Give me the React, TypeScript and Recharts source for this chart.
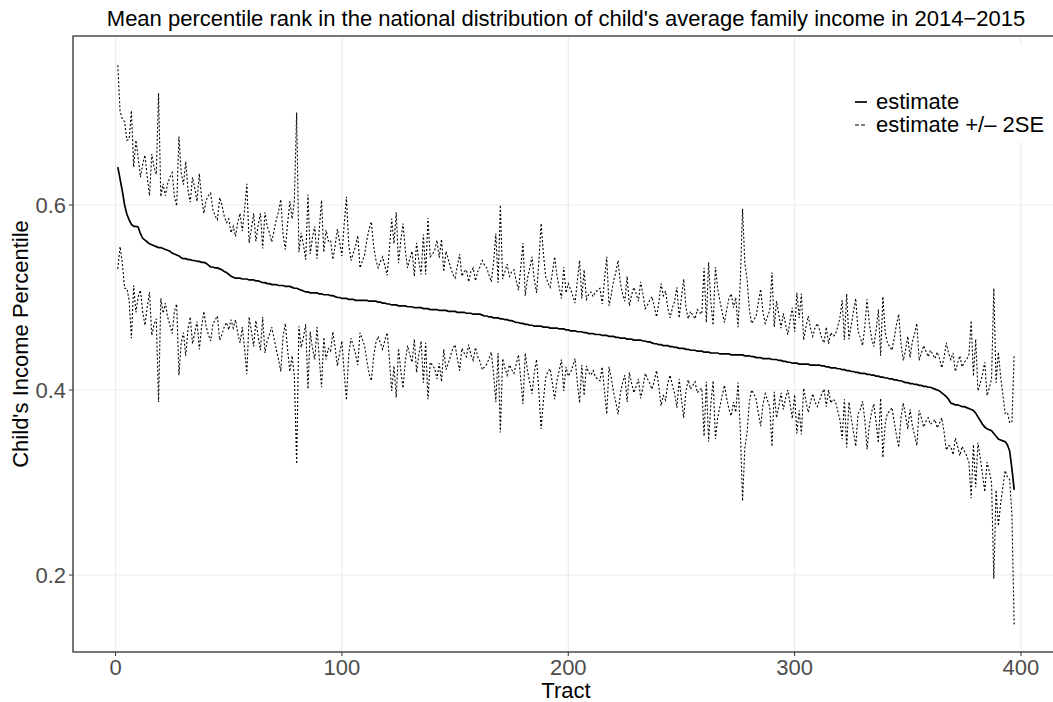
import { LineChart, Line, XAxis, YAxis, CartesianGrid } from "recharts";

const FONT = "'Liberation Sans', Arial, Helvetica, sans-serif";

// estimate per tract, in thousandths (tract 1..397)
const estimate = [
  641, 628, 615, 600, 590, 584, 579, 577, 577, 576,
  569, 564, 562, 560, 558, 557, 556, 555, 554, 554,
  553, 552, 551, 550, 548, 547, 546, 545, 543, 542,
  542, 541, 541, 540, 540, 539, 539, 538, 538, 537,
  535, 533, 533, 532, 532, 531, 530, 528, 527, 525,
  523, 522, 521, 521, 521, 520, 520, 520, 519, 519,
  519, 518, 518, 517, 516, 516, 515, 515, 514, 514,
  514, 513, 513, 513, 512, 512, 512, 511, 510, 510,
  509, 508, 507, 506, 506, 505, 505, 505, 505, 504,
  504, 503, 503, 503, 502, 502, 501, 500, 500, 499,
  499, 499, 498, 498, 498, 497, 497, 497, 497, 497,
  497, 496, 496, 496, 496, 495, 495, 494, 494, 493,
  493, 492, 492, 492, 491, 491, 491, 491, 490, 490,
  490, 489, 489, 489, 489, 488, 488, 488, 487, 487,
  487, 487, 486, 486, 486, 486, 485, 485, 485, 485,
  484, 484, 484, 484, 483, 483, 483, 482, 482, 482,
  482, 481, 480, 480, 479, 479, 478, 478, 478, 477,
  477, 476, 476, 475, 475, 474, 473, 473, 472, 472,
  471, 471, 470, 470, 469, 469, 469, 469, 468, 468,
  468, 467, 467, 467, 467, 466, 466, 466, 465, 465,
  464, 464, 464, 463, 463, 463, 462, 462, 461, 461,
  461, 460, 460, 460, 459, 459, 459, 458, 458, 458,
  457, 457, 456, 456, 456, 455, 455, 455, 454, 454,
  454, 454, 453, 453, 452, 452, 451, 450, 450, 449,
  449, 448, 448, 448, 447, 447, 446, 446, 445, 445,
  445, 444, 444, 443, 443, 443, 442, 442, 442, 441,
  441, 441, 440, 440, 440, 440, 439, 439, 439, 439,
  439, 438, 438, 438, 438, 438, 438, 437, 437, 437,
  436, 436, 435, 435, 435, 434, 434, 434, 434, 433,
  433, 433, 432, 432, 431, 431, 430, 430, 429, 429,
  429, 428, 428, 428, 428, 428, 427, 427, 427, 427,
  427, 426, 426, 425, 425, 424, 424, 424, 423, 423,
  422, 422, 421, 421, 420, 420, 419, 419, 418, 418,
  418, 417, 417, 416, 416, 415, 415, 414, 414, 413,
  413, 412, 412, 411, 411, 410, 410, 409, 408, 408,
  407, 407, 406, 406, 405, 405, 404, 404, 403, 403,
  402, 401, 400, 399, 397, 395, 393, 390, 386, 385,
  384, 384, 383, 382, 382, 381, 380, 379, 378, 375,
  371, 367, 363, 360, 358, 357, 356, 353, 350, 347,
  346, 345, 344, 341, 334, 315, 292,
];

// 2 x standard error per tract, in thousandths
const twoSE = [
  110, 73, 78, 90, 80, 87, 123, 64, 93, 75,
  61, 80, 92, 70, 52, 98, 85, 78, 167, 55,
  70, 58, 72, 80, 87, 62, 53, 129, 92, 80,
  105, 75, 62, 90, 78, 65, 95, 70, 53, 68,
  75, 80, 62, 56, 52, 77, 70, 60, 54, 60,
  47, 55, 45, 60, 70, 52, 75, 103, 40, 55,
  72, 43, 60, 74, 37, 76, 62, 55, 46, 58,
  70, 80, 93, 55, 40, 68, 92, 74, 95, 190,
  40, 62, 50, 35, 105, 42, 60, 72, 37, 70,
  101, 46, 70, 58, 60, 39, 55, 74, 60, 46,
  80, 110, 60, 42, 50, 58, 70, 35, 42, 49,
  65, 78, 86, 60, 45, 37, 44, 50, 40, 31,
  60, 93, 66, 100, 46, 70, 89, 60, 42, 52,
  60, 34, 70, 50, 36, 80, 37, 98, 57, 60,
  64, 75, 57, 77, 42, 64, 56, 48, 40, 36,
  50, 63, 39, 44, 47, 34, 45, 50, 36, 46,
  51, 59, 55, 52, 45, 38, 60, 91, 38, 123,
  43, 52, 60, 48, 53, 56, 45, 35, 60, 87,
  31, 50, 62, 74, 50, 36, 70, 111, 80, 55,
  48, 44, 60, 77, 57, 45, 33, 67, 40, 50,
  45, 38, 30, 55, 77, 36, 68, 36, 42, 45,
  40, 46, 48, 50, 34, 60, 85, 33, 45, 60,
  70, 83, 60, 48, 40, 68, 36, 48, 57, 50,
  42, 63, 50, 35, 40, 45, 50, 40, 29, 45,
  66, 54, 59, 40, 31, 42, 50, 65, 33, 55,
  75, 45, 33, 42, 38, 34, 45, 42, 40, 91,
  32, 97, 55, 30, 93, 70, 57, 45, 34, 48,
  60, 66, 51, 62, 30, 80, 158, 100, 83, 50,
  36, 40, 45, 60, 74, 50, 38, 45, 52, 94,
  35, 63, 50, 35, 52, 40, 30, 45, 60, 34,
  76, 50, 76, 26, 40, 52, 40, 31, 40, 45,
  38, 30, 25, 43, 25, 38, 34, 36, 45, 55,
  75, 32, 83, 34, 50, 65, 80, 45, 39, 30,
  50, 81, 55, 40, 31, 50, 72, 23, 87, 50,
  38, 35, 31, 45, 60, 72, 40, 23, 35, 50,
  28, 45, 55, 66, 27, 35, 44, 38, 33, 40,
  37, 33, 41, 35, 27, 40, 58, 50, 47, 55,
  36, 45, 54, 43, 48, 52, 58, 96, 37, 80,
  28, 40, 54, 70, 36, 45, 56, 157, 58, 94,
  69, 50, 31, 35, 31, 50, 146,
];

const xTicks = [0, 100, 200, 300, 400];
const yTicks = [0.2, 0.4, 0.6];

const rows = estimate.map((e, i) => ({
  tract: i + 1,
  est: e / 1000,
  upper: (e + twoSE[i]) / 1000,
  lower: (e - twoSE[i]) / 1000,
}));

// plot panel geometry (right edge runs past the cropped picture)
const W = 1070;
const H = 702;
const P_LEFT = 73;
const P_TOP = 36;
const P_RIGHT = 1059;
const P_BOTTOM = 652;

export default function App() {
  const tickStyle = { fontFamily: FONT, fontSize: 22, fill: "#4D4D4D" };
  const cx = (P_LEFT + P_RIGHT) / 2;
  return (
    <div style={{ position: "absolute", left: 0, top: 0, width: 1053, height: 702, overflow: "hidden", background: "#fff" }}>
      <div style={{ position: "absolute", left: 0, top: 0 }}>
        <LineChart
          width={W}
          height={H}
          data={rows}
          margin={{ top: P_TOP, right: W - P_RIGHT, bottom: 0, left: 0 }}
        >
          <CartesianGrid stroke="#EBEBEB" strokeWidth={1.1} />
          <XAxis
            dataKey="tract"
            type="number"
            domain={[-18.8, 416.8]}
            ticks={xTicks}
            allowDataOverflow
            height={H - P_BOTTOM}
            axisLine={false}
            tickLine={{ stroke: "#333333" }}
            tickSize={4}
            tickMargin={3}
            tick={tickStyle}
          />
          <YAxis
            type="number"
            domain={[0.1168, 0.7827]}
            ticks={yTicks}
            allowDataOverflow
            width={P_LEFT}
            axisLine={false}
            tickLine={{ stroke: "#333333" }}
            tickSize={4}
            tickMargin={3}
            tick={tickStyle}
            tickFormatter={(v: number) => v.toFixed(1)}
          />
          <Line
            dataKey="upper"
            type="linear"
            stroke="#000"
            strokeWidth={1.1}
            strokeDasharray="2 2"
            dot={false}
            isAnimationActive={false}
          />
          <Line
            dataKey="lower"
            type="linear"
            stroke="#000"
            strokeWidth={1.1}
            strokeDasharray="2 2"
            dot={false}
            isAnimationActive={false}
          />
          <Line
            dataKey="est"
            type="linear"
            stroke="#000"
            strokeWidth={1.7}
            dot={false}
            isAnimationActive={false}
          />
        </LineChart>
      </div>
      <svg
        width={W}
        height={H}
        style={{ position: "absolute", left: 0, top: 0, pointerEvents: "none" }}
        fontFamily={FONT}
      >
        <rect
          x={P_LEFT}
          y={P_TOP}
          width={P_RIGHT - P_LEFT}
          height={P_BOTTOM - P_TOP}
          fill="none"
          stroke="#333333"
          strokeWidth={1.3}
        />
        <text x={cx} y={26} textAnchor="middle" fontSize={22} fill="#000">
          Mean percentile rank in the national distribution of child's average family income in 2014−2015
        </text>
        <text x={cx} y={698} textAnchor="middle" fontSize={22} fill="#000">
          Tract
        </text>
        <text
          x={0}
          y={0}
          transform={`translate(28, ${(P_TOP + P_BOTTOM) / 2}) rotate(-90)`}
          textAnchor="middle"
          fontSize={22}
          fill="#000"
        >
          Child's Income Percentile
        </text>
        {/* legend */}
        <rect x={845} y={45} width={215} height={97} fill="#fff" />
        <line x1={855} x2={867} y1={102} y2={102} stroke="#000" strokeWidth={1.7} />
        <text x={876} y={109} fontSize={22} fill="#000">estimate</text>
        <line x1={855} x2={867} y1={125} y2={125} stroke="#000" strokeWidth={1.1} strokeDasharray="4 2" />
        <text x={876} y={132} fontSize={22} fill="#000">estimate +/– 2SE</text>
      </svg>
    </div>
  );
}
